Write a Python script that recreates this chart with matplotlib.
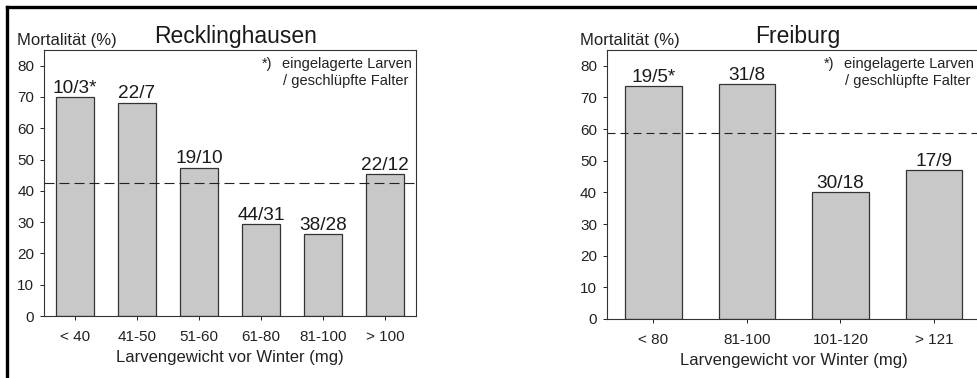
import numpy as np
import matplotlib.pyplot as plt
from matplotlib.lines import Line2D

plt.rcParams['font.family'] = ['Liberation Sans', 'DejaVu Sans']

# Recklinghausen
rk_cats = ["< 40", "41-50", "51-60", "61-80", "81-100", "> 100"]
rk_vals = [70.0, 68.2, 47.4, 29.5, 26.2, 45.4]
rk_labels = ["10/3*", "22/7", "19/10", "44/31", "38/28", "22/12"]
rk_mean = 42.6

# Freiburg
fr_cats = ["< 80", "81-100", "101-120", "> 121"]
fr_vals = [73.6, 74.1, 40.0, 47.0]
fr_labels = ["19/5*", "31/8", "30/18", "17/9"]
fr_mean = 58.9

yticks = [0, 10, 20, 30, 40, 50, 60, 70, 80]

W, H = 977, 378
fig = plt.figure(figsize=(W / 100, H / 100), dpi=100)


def px(x, y):
    return x / W, 1 - y / H


def panel(rect, cats, vals, labels, mean, title, title_x, ylab_x, note_x, dash):
    ax = fig.add_axes(rect)
    x = np.arange(len(cats))
    ax.bar(x, vals, width=0.6, color="#c8c8c8", edgecolor="#333333", linewidth=0.9)
    for xi, v, lab in zip(x, vals, labels):
        ax.annotate(lab, (xi, v), xytext=(0, 3), textcoords="offset points",
                    ha="center", va="baseline", fontsize=13.7, color="#1a1a1a")
    ax.axhline(mean, color="#222222", linewidth=0.8, dashes=dash)
    ax.set_xlim(-0.5, len(cats) - 0.5)
    ax.set_ylim(0, 85)
    ax.set_yticks(yticks)
    ax.set_xticks(x)
    ax.set_xticklabels(cats)
    ax.tick_params(axis="both", direction="out", length=3, width=0.7,
                   labelsize=11, colors="#222222", pad=4)
    ax.tick_params(axis="x", pad=7)
    for s in ax.spines.values():
        s.set_linewidth(0.8)
        s.set_color("#333333")
    ax.set_xlabel("Larvengewicht vor Winter (mg)", fontsize=12, color="#222222", labelpad=4.5)
    fig.text(*px(title_x, 36), title, ha="center", va="center", fontsize=16.5, color="#1a1a1a")
    fig.text(*px(ylab_x, 40), "Mortalität (%)", ha="left", va="center", fontsize=12, color="#222222")
    fig.text(*px(note_x, 64), "*)", ha="left", va="center", fontsize=10.5, color="#222222")
    fig.text(*px(note_x + 20, 64), "eingelagerte Larven", ha="left", va="center", fontsize=10.5, color="#222222")
    fig.text(*px(note_x + 21, 81), "/ geschlüpfte Falter", ha="left", va="center", fontsize=10.5, color="#222222")
    return ax


panel([44 / W, 1 - 316 / H, 372 / W, 266 / H], rk_cats, rk_vals, rk_labels, rk_mean,
      "Recklinghausen", 236, 17, 262, (9, 4.5))
panel([606.7 / W, 1 - 319 / H, 374 / W, 269 / H], fr_cats, fr_vals, fr_labels, fr_mean,
      "Freiburg", 798, 580, 824, (7.2, 4.5))

# outer frame (cropped)
fig.add_artist(Line2D([7 / W, 1], [1 - 6.5 / H, 1 - 6.5 / H], color="black", linewidth=2.4))
fig.add_artist(Line2D([7 / W, 7 / W], [0, 1 - 6.5 / H], color="black", linewidth=2.4))

fig.savefig("out.png", dpi=100)
